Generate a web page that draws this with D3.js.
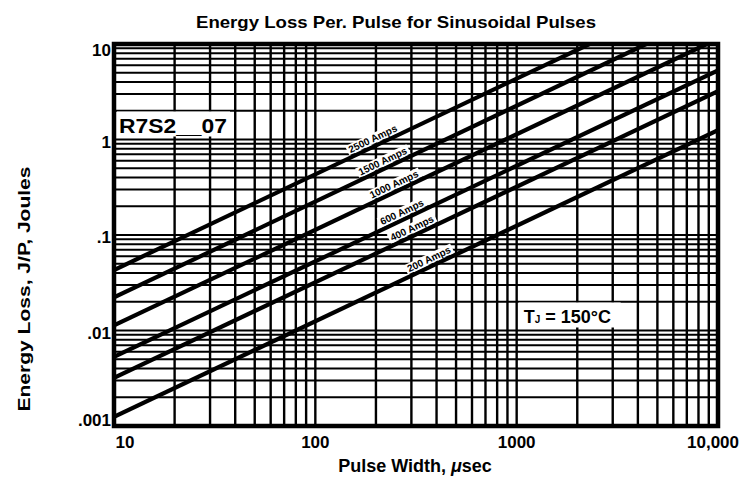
<!DOCTYPE html>
<html><head><meta charset="utf-8">
<script src="https://cdn.jsdelivr.net/npm/d3@7/dist/d3.min.js"></script>
<style>html,body{margin:0;padding:0;background:#fff}svg{display:block}text{font-family:"Liberation Sans",Arial,sans-serif;fill:#000}</style>
</head><body>
<script>
// ---- data ----
const seriesNames = ["2500 Amps", "1500 Amps", "1000 Amps", "600 Amps", "400 Amps", "200 Amps"];
const startWidth  = [10, 10, 10, 10, 10, 10];                 // µs
const startEnergy = [0.043, 0.0222, 0.0113, 0.0053, 0.0032, 0.00125]; // J
const endWidth    = [2300, 4400, 8800, 10000, 10000, 10000];   // µs
const endEnergy   = [10, 10, 10, 5.3, 3.2, 1.25];              // J
const labelWidth  = [200, 224, 255, 279, 313, 380];            // µs where each label sits
const xTickValues = [10, 100, 1000, 10000];
const xTickLabels = ["10", "100", "1000", "10,000"];
const yTickValues = [0.001, 0.01, 0.1, 1, 10];
const yTickLabels = [".001", ".01", ".1", "1", "10"];
const titleText = "Energy Loss Per. Pulse for Sinusoidal Pulses";
const xTitle = "Pulse Width, ";
const yTitle = "Energy Loss, J/P, Joules";
const partText = "R7S2__07";

const W = 744, H = 484;
const L = 114, R = 718, T = 44, B = 426;

const svg = d3.select("body").append("svg").attr("width", W).attr("height", H);
svg.append("rect").attr("width", W).attr("height", H).attr("fill", "#fff");

const x = d3.scaleLog().domain([10, 10000]).range([L, R]);
const y = d3.scaleLog().domain([0.001, 10]).range([B, T]);

// grid
const g = svg.append("g");
g.selectAll("line.v").data(x.ticks()).join("line")
  .attr("x1", d => x(d)).attr("x2", d => x(d)).attr("y1", T).attr("y2", B)
  .attr("stroke", "#000").attr("stroke-width", 2.4);
g.selectAll("line.h").data(y.ticks()).join("line")
  .attr("x1", L).attr("x2", R).attr("y1", d => y(d)).attr("y2", d => y(d))
  .attr("stroke", "#000").attr("stroke-width", 2);

// clip
svg.append("clipPath").attr("id", "clip").append("rect")
  .attr("x", L).attr("y", T).attr("width", R - L).attr("height", B - T);

// curves
const lineGen = d3.line().x(d => x(d[0])).y(d => y(d[1]));
const curves = seriesNames.map((n, i) => ({
  name: n, pts: [[startWidth[i], startEnergy[i]], [endWidth[i], endEnergy[i]]], lw: labelWidth[i]
}));
svg.append("g").attr("clip-path", "url(#clip)")
  .selectAll("path").data(curves).join("path")
  .attr("d", d => lineGen(d.pts)).attr("fill", "none")
  .attr("stroke", "#000").attr("stroke-width", 4.2).attr("stroke-linecap", "butt");

// border
svg.append("rect").attr("x", L).attr("y", T).attr("width", R - L).attr("height", B - T)
  .attr("fill", "none").attr("stroke", "#000").attr("stroke-width", 4.5);

// curve labels
curves.forEach(c => {
  const [p0, p1] = c.pts;
  const x0 = x(p0[0]), y0 = y(p0[1]), x1 = x(p1[0]), y1 = y(p1[1]);
  const px = x(c.lw);
  const py = y0 + (px - x0) * (y1 - y0) / (x1 - x0);
  const ang = Math.atan2(y1 - y0, x1 - x0) * 180 / Math.PI;
  const lg = svg.append("g").attr("transform", `translate(${px},${py}) rotate(${ang})`);
  const t = lg.append("text").attr("x", 0).attr("y", -4).attr("text-anchor", "middle")
    .attr("font-size", 10).attr("font-weight", "bold").text(c.name);
  const bb = t.node().getBBox();
  lg.insert("rect", "text").attr("x", bb.x - 2).attr("y", -12.5).attr("width", bb.width + 4)
    .attr("height", 10).attr("fill", "#fff");
});

// part number annotation
{
  const ax = x(10) + 3, ay = y(1) - 2;
  svg.append("rect").attr("x", ax).attr("y", ay - 26).attr("width", 113).attr("height", 25).attr("fill", "#fff");
  svg.append("text").attr("x", ax + 2).attr("y", ay - 5).attr("font-size", 21).attr("font-weight", "bold")
    .attr("textLength", 108).attr("lengthAdjust", "spacingAndGlyphs").text(partText);
}
// temperature annotation
{
  const ax = x(1000) + 2, ay = y(0.01) - 2;
  svg.append("rect").attr("x", ax).attr("y", ay - 26).attr("width", 102).attr("height", 25).attr("fill", "#fff");
  const t = svg.append("text").attr("x", ax + 5).attr("y", ay - 6).attr("font-size", 18).attr("font-weight", "bold");
  t.append("tspan").text("T");
  t.append("tspan").attr("font-size", 10).attr("dy", 0).text("J");
  t.append("tspan").attr("dy", 0).text(" = 150°C");
}

// y tick labels
svg.selectAll("text.yt").data(yTickValues).join("text")
  .attr("x", L - 3)
  .attr("y", d => Math.min(Math.max(y(d) + 2, T + 6), B - 6))
  .attr("dy", "0.36em").attr("text-anchor", "end")
  .attr("font-size", 17).attr("font-weight", "bold")
  .text((d, i) => yTickLabels[i]);

// x tick labels
svg.selectAll("text.xt").data(xTickValues).join("text")
  .attr("x", (d, i) => i === 0 ? x(d) + 11 : (i === xTickValues.length - 1 ? x(d) - 5 : x(d)))
  .attr("y", B + 22).attr("text-anchor", "middle")
  .attr("font-size", 17).attr("font-weight", "bold")
  .text((d, i) => xTickLabels[i]);

// titles
svg.append("text").attr("x", 396).attr("y", 28).attr("text-anchor", "middle")
  .attr("font-size", 17).attr("font-weight", "bold")
  .attr("textLength", 400).attr("lengthAdjust", "spacingAndGlyphs").text(titleText);
{
  const t = svg.append("text").attr("x", 415).attr("y", 472).attr("text-anchor", "middle")
    .attr("font-size", 18).attr("font-weight", "bold");
  t.append("tspan").text(xTitle);
  t.append("tspan").attr("font-style", "italic").text("μ");
  t.append("tspan").text("sec");
}
svg.append("text").attr("transform", "translate(30,289) rotate(-90)").attr("text-anchor", "middle")
  .attr("font-size", 17).attr("font-weight", "bold")
  .attr("textLength", 245).attr("lengthAdjust", "spacingAndGlyphs").text(yTitle);
</script>
</body></html>
